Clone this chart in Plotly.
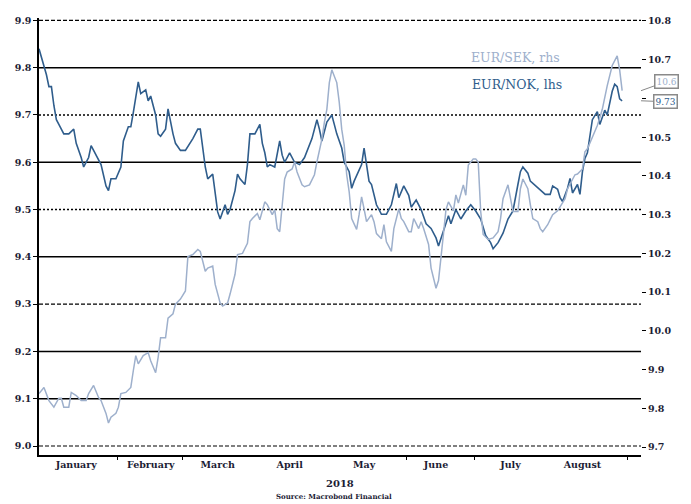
import pandas as pd
import plotly.graph_objects as go

# ---- data (day offsets from 2018-01-01) ----
nok_days = [0, 2, 3, 4, 5, 6, 7, 8, 10, 12, 14, 15, 17, 18, 20, 21, 23, 25, 27, 28, 29, 31, 33, 34, 36, 37, 38, 40,
            41, 43, 44, 45, 47, 48, 49, 51, 52, 53, 54, 55, 57, 59, 62, 64, 65, 67, 68, 70, 71, 72, 73, 75, 76, 77,
            79, 80, 81, 83, 84, 85, 87, 89, 90, 91, 92, 93, 95, 97, 98, 99, 101, 103, 105, 107, 110, 112, 113, 114,
            116, 118, 119, 120, 122, 123, 125, 126, 127, 130, 131, 132, 133, 134, 136, 138, 140, 141, 142, 144, 145,
            147, 149, 150, 152, 154, 156, 158, 160, 161, 163, 165, 166, 168, 170, 172, 174, 176, 178, 180, 182, 183,
            185, 187, 189, 191, 193, 194, 195, 197, 198, 200, 202, 204, 206, 207, 209, 210, 211, 213, 214, 215, 217,
            218, 219, 220, 221, 222, 223, 225, 226, 228, 229, 231, 232, 233, 234, 235]
nok_vals = [9.84, 9.805, 9.785, 9.76, 9.76, 9.72, 9.69, 9.68, 9.66, 9.66, 9.67, 9.64, 9.61, 9.59, 9.61, 9.635, 9.615,
            9.595, 9.55, 9.54, 9.565, 9.565, 9.59, 9.645, 9.675, 9.675, 9.705, 9.77, 9.745, 9.753, 9.73, 9.74, 9.70,
            9.66, 9.655, 9.67, 9.713, 9.685, 9.66, 9.64, 9.625, 9.625, 9.65, 9.67, 9.67, 9.59, 9.565, 9.575, 9.53,
            9.495, 9.48, 9.51, 9.49, 9.50, 9.54, 9.575, 9.565, 9.553, 9.595, 9.66, 9.66, 9.68, 9.64, 9.62, 9.59,
            9.595, 9.59, 9.645, 9.615, 9.60, 9.62, 9.60, 9.595, 9.61, 9.65, 9.69, 9.67, 9.645, 9.685, 9.70, 9.68,
            9.66, 9.63, 9.60, 9.58, 9.545, 9.56, 9.595, 9.63, 9.59, 9.56, 9.553, 9.51, 9.49, 9.49, 9.50, 9.51, 9.555,
            9.525, 9.55, 9.53, 9.505, 9.52, 9.50, 9.47, 9.46, 9.44, 9.423, 9.455, 9.487, 9.47, 9.50, 9.48, 9.497,
            9.51, 9.497, 9.48, 9.445, 9.43, 9.417, 9.43, 9.45, 9.48, 9.497, 9.553, 9.58, 9.59, 9.577, 9.56, 9.55,
            9.54, 9.532, 9.532, 9.55, 9.543, 9.525, 9.517, 9.545, 9.566, 9.535, 9.553, 9.532, 9.58, 9.608, 9.62,
            9.66, 9.69, 9.707, 9.68, 9.71, 9.70, 9.75, 9.765, 9.76, 9.734, 9.73]

sek_days = [0, 2, 4, 6, 8, 9, 10, 12, 13, 15, 17, 19, 20, 22, 24, 25, 27, 28, 29, 31, 32, 33, 35, 37, 38, 39, 40, 42,
            44, 45, 47, 48, 49, 51, 52, 54, 55, 57, 59, 60, 62, 64, 65, 67, 68, 70, 71, 73, 74, 76, 77, 79, 80, 82,
            84, 85, 86, 88, 89, 90, 91, 92, 94, 95, 96, 97, 98, 99, 100, 102, 103, 104, 106, 107, 109, 111, 112, 114,
            115, 116, 117, 118, 120, 121, 122, 123, 124, 125, 126, 128, 129, 130, 131, 132, 134, 135, 136, 138, 139,
            140, 142, 143, 145, 146, 147, 149, 150, 151, 153, 154, 155, 157, 158, 159, 160, 161, 162, 163, 164, 165,
            167, 168, 169, 171, 172, 173, 175, 176, 177, 178, 179, 181, 183, 185, 186, 187, 189, 190, 191, 193, 194,
            195, 197, 198, 199, 201, 202, 203, 205, 206, 207, 209, 211, 212, 213, 215, 216, 217, 219, 220, 221, 223,
            225, 226, 227, 229, 231, 233, 234, 235]
sek_vals = [9.838, 9.854, 9.82, 9.803, 9.826, 9.826, 9.803, 9.803, 9.841, 9.833, 9.82, 9.82, 9.838, 9.859, 9.828,
            9.82, 9.787, 9.762, 9.777, 9.787, 9.803, 9.838, 9.841, 9.854, 9.897, 9.936, 9.915, 9.936, 9.944, 9.923,
            9.892, 9.931, 9.982, 9.982, 10.033, 10.044, 10.069, 10.082, 10.103, 10.192, 10.197, 10.21, 10.205,
            10.154, 10.162, 10.167, 10.12, 10.072, 10.064, 10.072, 10.095, 10.146, 10.197, 10.2, 10.226, 10.282,
            10.29, 10.303, 10.287, 10.313, 10.333, 10.326, 10.3, 10.313, 10.264, 10.256, 10.333, 10.392, 10.41,
            10.418, 10.436, 10.41, 10.377, 10.372, 10.377, 10.403, 10.436, 10.495, 10.538, 10.572, 10.641, 10.674,
            10.641, 10.59, 10.52, 10.479, 10.403, 10.359, 10.29, 10.262, 10.3, 10.346, 10.315, 10.282, 10.3, 10.282,
            10.251, 10.238, 10.274, 10.23, 10.205, 10.264, 10.315, 10.29, 10.282, 10.256, 10.256, 10.29, 10.264,
            10.282, 10.264, 10.223, 10.162, 10.136, 10.11, 10.13, 10.2, 10.25, 10.313, 10.333, 10.31, 10.351, 10.33,
            10.377, 10.35, 10.428, 10.444, 10.444, 10.436, 10.308, 10.249, 10.236, 10.24, 10.256, 10.29, 10.341,
            10.377, 10.34, 10.308, 10.308, 10.367, 10.392, 10.367, 10.326, 10.29, 10.282, 10.264, 10.256, 10.274,
            10.287, 10.3, 10.31, 10.333, 10.341, 10.367, 10.392, 10.403, 10.405, 10.418, 10.462, 10.47, 10.5,
            10.53, 10.55, 10.572, 10.633, 10.685, 10.71, 10.674, 10.62]

month_labels = ["January", "February", "March", "April", "May", "June", "July", "August"]
month_label_days = [15, 45, 72, 101, 131, 160, 190, 219]
x_tick_mark_days = [31.5, 58, 148, 175.5, 237]
left_ticks = [9.0, 9.1, 9.2, 9.3, 9.4, 9.5, 9.6, 9.7, 9.8, 9.9]
right_ticks = [9.7, 9.8, 9.9, 10.0, 10.1, 10.2, 10.3, 10.4, 10.5, 10.6, 10.7, 10.8]
right_hidden = [10.6]  # label covered by the end-value box in the original
series_names = ["EUR/SEK, rhs", "EUR/NOK, lhs"]
year_label = "2018"
source_text = "Source: Macrobond Financial"

# ---- styles ----
start = pd.Timestamp("2018-01-01")
to_date = lambda d: start + pd.to_timedelta(d, unit="D")
NOK_C = "#2f5d8c"
SEK_C = "#9eb0cc"
TXT = "#1c1c34"
SERIF = "DejaVu Serif"
DASHED = dict(dash="4px,2px", width=1.2)
DOTTED = dict(dash="2px,2px", width=1.6)
SOLID = dict(dash="solid", width=1.5)
grid_styles = [DASHED, SOLID, SOLID, DASHED, SOLID, DOTTED, SOLID, DOTTED, SOLID, DASHED]
TICKFONT = dict(size=9.5, family=SERIF, color=TXT, weight="bold")

fig = go.Figure()
fig.add_trace(go.Scatter(x=[to_date(d) for d in sek_days], y=sek_vals, mode="lines",
                         line=dict(color=SEK_C, width=1.5), yaxis="y2", name=series_names[0]))
fig.add_trace(go.Scatter(x=[to_date(d) for d in nok_days], y=nok_vals, mode="lines",
                         line=dict(color=NOK_C, width=1.6), name=series_names[1]))

for v, st in zip(left_ticks, grid_styles):
    fig.add_shape(type="line", xref="x domain", x0=0, x1=1, yref="y", y0=v, y1=v,
                  line=dict(color="black", **st), layer="below")

# page body has an 8px offset, so the figure is drawn 8px smaller
fig.update_layout(
    width=683, height=496,
    margin=dict(l=29, r=50, t=7, b=49),
    paper_bgcolor="white", plot_bgcolor="white",
    showlegend=False,
    font=dict(family=SERIF, color=TXT, size=10),
    xaxis=dict(
        type="date",
        range=[start, to_date(242.6)],
        tickmode="array",
        tickvals=[to_date(d) for d in month_label_days],
        ticktext=month_labels,
        ticks="",
        showgrid=False, zeroline=False,
        showline=True, linecolor="black", linewidth=1.5,
        tickfont=TICKFONT,
        minor=dict(tickmode="array", tickvals=[to_date(d) for d in x_tick_mark_days],
                   ticks="outside", ticklen=3, tickcolor="black", tickwidth=1.2, showgrid=False),
    ),
    yaxis=dict(
        range=[8.981, 9.905], tickmode="array", tickvals=left_ticks, tickformat=".1f",
        ticks="outside", ticklen=4, tickcolor="black", tickwidth=1.2,
        showgrid=False, zeroline=False,
        showline=True, linecolor="black", linewidth=1.5,
        tickfont=TICKFONT,
    ),
    yaxis2=dict(
        range=[9.6795, 10.8077], overlaying="y", side="right",
        tickmode="array", tickvals=right_ticks,
        ticktext=["" if v in right_hidden else f"{v:.1f}" for v in right_ticks],
        ticks="outside", ticklen=4, tickcolor="black", tickwidth=1.2,
        showgrid=False, zeroline=False, showline=False,
        tickfont=TICKFONT,
    ),
)

# series labels
fig.add_annotation(xref="paper", yref="paper", x=(468 - 37) / 604, y=(455 - 55) / 440, xanchor="left",
                   yanchor="middle", text=series_names[0], showarrow=False,
                   font=dict(family=SERIF, size=12.5, color=SEK_C))
fig.add_annotation(xref="paper", yref="paper", x=(469 - 37) / 604, y=(455 - 82) / 440, xanchor="left",
                   yanchor="middle", text=series_names[1], showarrow=False,
                   font=dict(family=SERIF, size=12.5, color=NOK_C))

# end-value boxes
fig.add_annotation(xref="paper", yref="y2", x=1, y=sek_vals[-1], text=f"{sek_vals[-1]:.1f}",
                   showarrow=True, arrowhead=0, arrowwidth=1, arrowcolor="#888888", ax=25, ay=-9,
                   bordercolor="#8a8a8a", borderwidth=1.5, bgcolor="white", borderpad=1,
                   font=dict(family=SERIF, size=9, color=SEK_C))
fig.add_annotation(xref="paper", yref="y", x=1, y=nok_vals[-1], text=f"{nok_vals[-1]:.2f}",
                   showarrow=True, arrowhead=0, arrowwidth=1, arrowcolor="#888888", ax=24, ay=1,
                   bordercolor="#8a8a8a", borderwidth=1.5, bgcolor="white", borderpad=1,
                   font=dict(family=SERIF, size=9, color=NOK_C))

# year + source
fig.add_annotation(xref="paper", yref="paper", x=0.5, y=0, yanchor="middle", yshift=-28,
                   text=year_label, showarrow=False,
                   font=dict(family=SERIF, size=10, color=TXT, weight="bold"))
fig.add_annotation(xref="paper", yref="paper", x=0.49, y=0, yanchor="middle", yshift=-41,
                   text=source_text, showarrow=False,
                   font=dict(family=SERIF, size=7, color=TXT, weight="bold"))

fig.write_html("out.html")
